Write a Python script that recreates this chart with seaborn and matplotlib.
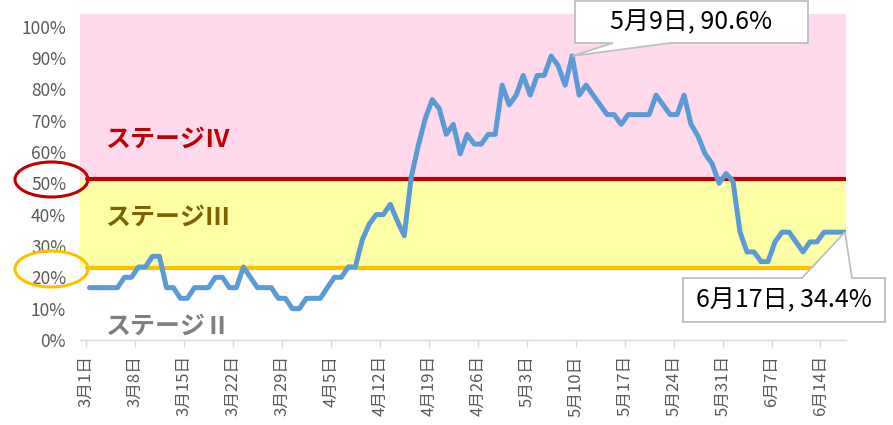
import numpy as np
import pandas as pd
import matplotlib
matplotlib.use("Agg")
import matplotlib.pyplot as plt
import seaborn as sns
from matplotlib.patches import Ellipse, Polygon
from matplotlib.transforms import Affine2D

# ---------------- data ----------------
# daily values (percent), 3/1 .. 6/17
values = [
    16.7, 16.7, 16.7, 16.7, 16.7, 20.0, 20.0, 23.3, 23.3, 26.7,
    26.7, 16.7, 16.7, 13.3, 13.3, 16.7, 16.7, 16.7, 20.0, 20.0,
    16.7, 16.7, 23.3, 20.0, 16.7, 16.7, 16.7, 13.3, 13.3, 10.0,
    10.0, 13.3, 13.3, 13.3, 16.7, 20.0, 20.0, 23.3, 23.3, 32.0,
    37.0, 40.0, 40.0, 43.3, 38.0, 33.3, 52.0, 62.0, 70.6, 76.7,
    73.8, 65.6, 68.8, 59.4, 65.6, 62.5, 62.5, 65.6, 65.6, 81.3,
    75.0, 78.1, 84.4, 78.1, 84.4, 84.4, 90.6, 87.5, 81.3, 90.6,
    78.1, 81.3, 78.1, 75.0, 71.9, 71.9, 68.8, 71.9, 71.9, 71.9,
    71.9, 78.1, 75.0, 71.9, 71.9, 78.1, 68.8, 65.0, 59.4, 56.3,
    50.0, 53.1, 50.6, 34.4, 28.1, 28.1, 25.0, 25.0, 31.3, 34.4,
    34.4, 31.3, 28.1, 31.3, 31.3, 34.4, 34.4, 34.4, 34.4,
]
day_index = list(range(len(values)))

tick_labels = ["3月1日", "3月8日", "3月15日", "3月22日", "3月29日", "4月5日",
               "4月12日", "4月19日", "4月26日", "5月3日", "5月10日", "5月17日",
               "5月24日", "5月31日", "6月7日", "6月14日"]
y_ticks = [0, 10, 20, 30, 40, 50, 60, 70, 80, 90, 100]

stage4_level = 51.4
stage3_level = 22.9
stage_names = ["ステージⅣ", "ステージⅢ", "ステージⅡ"]

peak_idx, peak_label = 69, "5月9日, 90.6%"
last_idx, last_label = 108, "6月17日, 34.4%"

df = pd.DataFrame({"day": day_index, "rate": [v / 100 for v in values]})

# ---------------- style ----------------
sns.set_theme(style="white")
plt.rcParams["font.family"] = ["Noto Sans CJK JP", "DejaVu Sans"]

W, H = 893, 425
fig = plt.figure(figsize=(W / 100, H / 100), dpi=100)
ax = fig.add_axes([80 / W, 1 - 340 / H, 766 / W, 326 / H])
pix = Affine2D().scale(1 / W, -1 / H).translate(0, 1) + fig.transFigure

pink = "#FFD9EC"
yellow = "#FFFFA6"
ax.axhspan(stage4_level / 100, 1.04, color=pink, lw=0, zorder=0)
ax.axhspan(stage3_level / 100, stage4_level / 100, color=yellow, lw=0, zorder=0)
ax.axhline(stage4_level / 100, xmin=7 / 766, color="#C00000", lw=3.0, zorder=1)
ax.axhline(stage3_level / 100, xmin=7 / 766, color="#FFC000", lw=3.0, zorder=1)

sns.lineplot(data=df, x="day", y="rate", ax=ax, color="#5B9BD5", lw=3.6,
             solid_joinstyle="round", solid_capstyle="round", zorder=3)

ax.set_xlim(-1.36, 108.15)
ax.set_ylim(0, 1.04)
ax.set_xticks(np.arange(len(tick_labels)) * 7 - 0.5)
ax.set_xticklabels(tick_labels, rotation=90, fontsize=12, color="#595959")
ax.set_yticks([t / 100 for t in y_ticks])
ax.set_yticklabels([f"{t}%" for t in y_ticks], fontsize=12.5, color="#595959")
ax.set_xlabel("")
ax.set_ylabel("")
ax.tick_params(axis="y", length=0, pad=10)
ax.tick_params(axis="x", length=5, width=1, color="#D9D9D9", pad=6, direction="out",
               bottom=True)
for s in ["left", "top", "right"]:
    ax.spines[s].set_visible(False)
ax.spines["bottom"].set_color("#D9D9D9")
ax.spines["bottom"].set_linewidth(1)
ax.grid(False)

# stage labels
ax.text(2.2, 0.638, stage_names[0], color="#C00000", fontsize=18, fontweight="bold",
        ha="left", va="center", zorder=4)
ax.text(2.2, 0.389, stage_names[1], color="#7F6000", fontsize=18, fontweight="bold",
        ha="left", va="center", zorder=4)
ax.text(2.2, 0.041, stage_names[2], color="#7F7F7F", fontsize=18, fontweight="bold",
        ha="left", va="center", zorder=4)

# ellipses around threshold labels
fig.add_artist(Ellipse((51.5, 179.5), 73, 35, transform=pix, fill=False,
                       ec="#C00000", lw=2.2))
fig.add_artist(Ellipse((51.5, 269), 73, 36, transform=pix, fill=False,
                       ec="#FFC000", lw=2.2))


def to_pix(x, y):
    disp = ax.transData.transform((x, y))
    return pix.inverted().transform(disp)


# callout 1 (peak)
tx, ty = to_pix(peak_idx, values[peak_idx] / 100)
poly1 = [(575, 1), (808, 1), (808, 43), (670, 43), (tx, ty), (613, 43), (575, 43)]
fig.add_artist(Polygon(poly1, closed=True, transform=pix, fc="white",
                       ec="#BFBFBF", lw=1.3, zorder=10))
fig.text(691, 22, peak_label, transform=pix, ha="center", va="center",
         fontsize=18, color="#000000", zorder=11)

# callout 2 (last)
tx, ty = to_pix(last_idx, values[last_idx] / 100)
poly2 = [(683, 278), (802, 278), (tx, ty), (852, 278), (885, 278), (885, 322), (683, 322)]
fig.add_artist(Polygon(poly2, closed=True, transform=pix, fc="white",
                       ec="#BFBFBF", lw=1.3, zorder=10))
fig.text(784, 300, last_label, transform=pix, ha="center", va="center",
         fontsize=18, color="#000000", zorder=11)

fig.savefig("out.png", dpi=100)
